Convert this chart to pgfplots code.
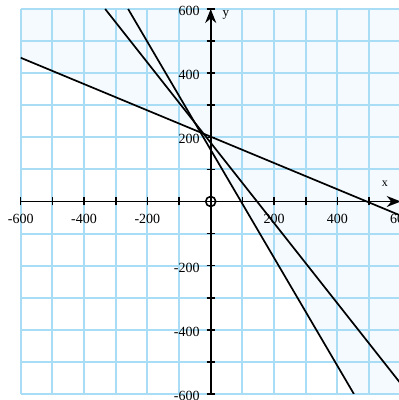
\documentclass[border=0pt]{standalone}
\usepackage{fontspec}
\setmainfont{Liberation Serif}
\usepackage{pgfplots}
\pgfplotsset{compat=1.18}
\usetikzlibrary{arrows.meta}
\definecolor{gridblue}{RGB}{168,221,245}
\definecolor{shadeblue}{RGB}{244,250,254}

\begin{document}
\begin{tikzpicture}
\begin{axis}[
  set layers,
  scale only axis, width=190pt, height=192.5pt,
  xmin=-600, xmax=600, ymin=-600, ymax=600,
  axis lines=middle,
  axis line style={line width=0.9pt, -{Stealth[length=7pt,width=5.5pt]}},
  axis background/.style={fill=shadeblue},
  xtick={-600,-500,...,600}, ytick={-600,-500,...,600},
  xticklabels={-600,{},-400,{},-200,{},{},{},200,{},400,{},600},
  yticklabels={-600,{},-400,{},-200,{},{},{},200,{},400,{},600},
  grid=major, grid style={gridblue, line width=1pt},
  tick style={black, line width=0.8pt},
  major tick length=4pt, tick align=center,
  tick label style={font=\fontsize{7}{8}\selectfont},
  xticklabel style={yshift=-1pt},
  yticklabel style={yshift=-1pt},
  xlabel={x}, ylabel={y},
  x label style={at={(rel axis cs:0.958,0.545)}, anchor=center, font=\fontsize{6}{7}\selectfont},
  y label style={at={(rel axis cs:0.54,0.985)}, anchor=center, font=\fontsize{6.5}{7}\selectfont},
]
% unshaded region
\addplot[fill=white, draw=none, on layer=axis background]
  coordinates {(-600,-600)(-600,448)(-32.2,215.2)(452.2,-600)} -- cycle;
% boundary lines
\addplot[black, line width=0.85pt] coordinates {(-600,448)(600,-44)};
\addplot[black, line width=0.85pt] coordinates {(-260.8,600)(452.2,-600)};
\addplot[black, line width=0.85pt] coordinates {(-333.3,600)(600,-567.6)};
% origin
\addplot[only marks, mark=o, mark size=2.5pt, mark options={line width=0.8pt, black}]
  coordinates {(0,0)};
\end{axis}
% page is cropped like the reference (0.5pt per pixel)
\pgfresetboundingbox
\path[use as bounding box] (-10.35pt,-3pt) rectangle (188.65pt,197pt);
\end{tikzpicture}
\end{document}
